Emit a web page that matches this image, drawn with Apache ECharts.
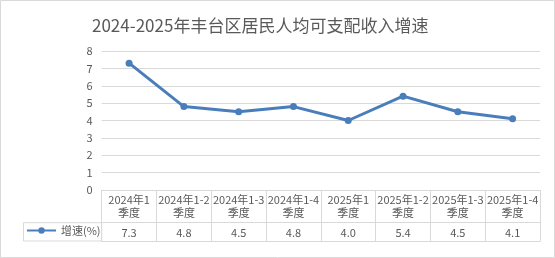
<!DOCTYPE html>
<html>
<head>
<meta charset="utf-8">
<script src="https://cdn.jsdelivr.net/npm/echarts@6/dist/echarts.min.js"></script>
<style>html,body{margin:0;padding:0;background:#fff}#c{width:555px;height:258px}</style>
</head>
<body>
<div id="c"></div>
<script>
const titleText = '2024-2025年丰台区居民人均可支配收入增速';
const categories = ['2024年1季度', '2024年1-2季度', '2024年1-3季度', '2024年1-4季度', '2025年1季度', '2025年1-2季度', '2025年1-3季度', '2025年1-4季度'];
const growth = [7.3, 4.8, 4.5, 4.8, 4.0, 5.4, 4.5, 4.1];
const seriesName = '增速(%)';
const yTicks = {min: 0, max: 8, interval: 1};

const FONT = '"Noto Sans CJK SC", sans-serif';
const TXT = '#595959';
const GRID = '#d9d9d9';
const BLUE = '#4a7ebb';

const chart = echarts.init(document.getElementById('c'), null, {renderer: 'canvas'});
const gridLeft = 101.7, gridRight = 15, gridTop = 51, gridBottom = 68;
const row1 = 32.7, row2 = 51;

chart.setOption({
  animation: false,
  backgroundColor: '#fff',
  textStyle: {fontFamily: FONT},
  title: {
    text: titleText, left: 87, top: 12,
    textStyle: {fontFamily: FONT, fontSize: 17, fontWeight: 'normal', color: TXT}
  },
  legend: {
    left: 26, top: 225, padding: 0, itemWidth: 29, itemHeight: 8, itemGap: 4,
    textStyle: {fontFamily: FONT, fontSize: 11, color: TXT},
    data: [seriesName]
  },
  grid: {left: gridLeft, right: gridRight, top: gridTop, bottom: gridBottom},
  xAxis: [
    {
      type: 'category', data: categories, boundaryGap: true, position: 'bottom',
      axisLine: {show: true, lineStyle: {color: GRID, width: 1}},
      axisTick: {show: true, length: row2, lineStyle: {color: GRID}},
      axisLabel: {
        interval: 0, margin: 3, fontSize: 11, lineHeight: 13.5, color: TXT, fontFamily: FONT,
        formatter: v => v.replace('季度', '\n季度')
      }
    },
    {
      type: 'category', data: categories, boundaryGap: true, position: 'bottom', offset: row1,
      axisLine: {show: true, lineStyle: {color: GRID, width: 1}},
      axisTick: {show: false},
      axisLabel: {
        interval: 0, margin: 4, fontSize: 11, lineHeight: 13, color: TXT, fontFamily: FONT,
        formatter: (v, i) => growth[i].toFixed(1)
      }
    },
    {
      type: 'category', data: categories, boundaryGap: true, position: 'bottom', offset: row2,
      axisLine: {show: true, lineStyle: {color: GRID, width: 1}},
      axisTick: {show: false}, axisLabel: {show: false}
    }
  ],
  yAxis: {
    type: 'value', min: yTicks.min, max: yTicks.max, interval: yTicks.interval,
    axisLine: {show: false}, axisTick: {show: false},
    axisLabel: {margin: 9, fontSize: 11, color: TXT, fontFamily: FONT},
    splitLine: {lineStyle: {color: GRID, width: 1}}
  },
  series: [{
    name: seriesName, type: 'line', xAxisIndex: 0, data: growth,
    symbol: 'circle', symbolSize: 7,
    lineStyle: {color: BLUE, width: 3},
    itemStyle: {color: BLUE},
    emphasis: {disabled: true}
  }],
  graphic: [
    {type: 'rect', silent: true, shape: {x: 0.5, y: 0.5, width: 554, height: 257},
     style: {fill: 'none', stroke: GRID, lineWidth: 1}},
    {type: 'rect', silent: true, shape: {x: 23.5, y: 258 - gridBottom + row1, width: gridLeft - 23.5, height: row2 - row1},
     style: {fill: 'none', stroke: GRID, lineWidth: 1}}
  ]
});
</script>
</body>
</html>
